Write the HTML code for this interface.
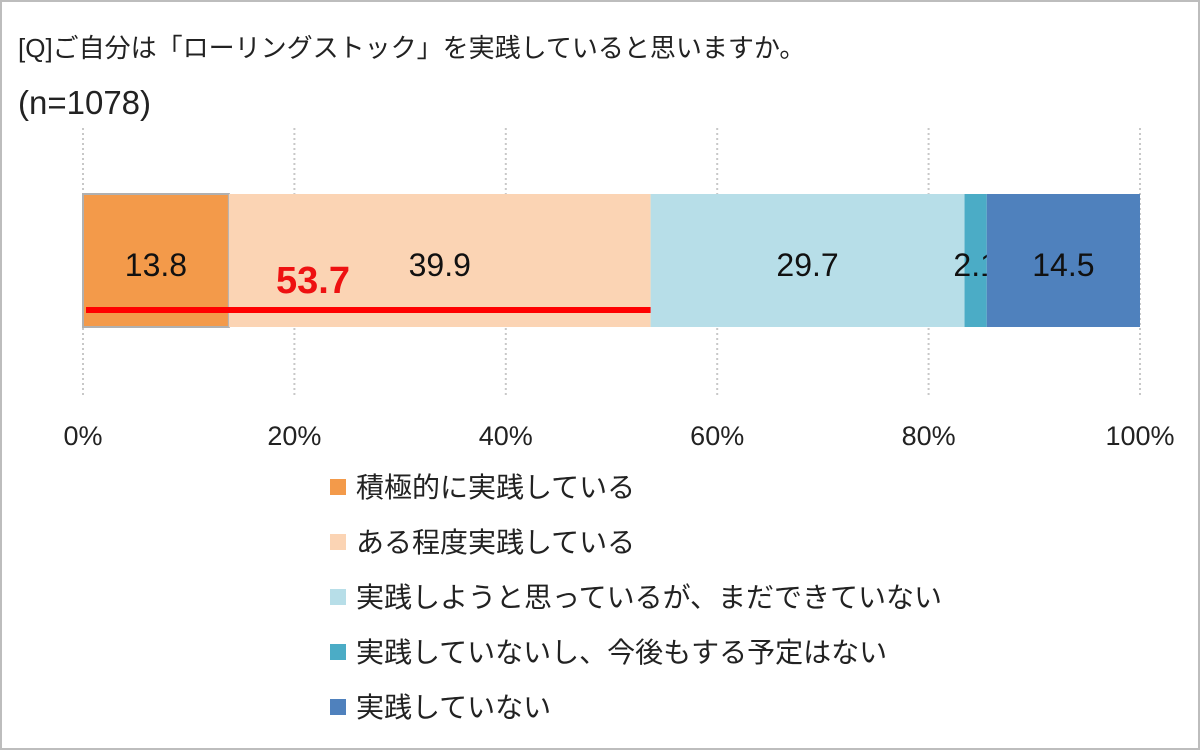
<!DOCTYPE html>
<html><head><meta charset="utf-8"><style>
body{margin:0;background:#fff;}
svg text{font-family:"Liberation Sans","Noto Sans CJK JP",sans-serif;}
</style></head><body>
<svg width="1200" height="750" viewBox="0 0 1200 750">
<rect x="1" y="1" width="1198" height="748" fill="#fff" stroke="#bdbdbd" stroke-width="2"/>
<text x="18" y="57" font-size="26" fill="#222">[Q]ご自分は「ローリングストック」を実践していると思いますか。</text>
<text x="18" y="114" font-size="33" fill="#222">(n=1078)</text>
<g id="grid"></g><g id="bars"></g><g id="ticks"></g><g id="legend"></g>
</svg>
<script>
const categories=["積極的に実践している","ある程度実践している","実践しようと思っているが、まだできていない","実践していないし、今後もする予定はない","実践していない"];
const values=[13.8,39.9,29.7,2.1,14.5];
const tickLabels=["0%","20%","40%","60%","80%","100%"];
const tickValues=[0,20,40,60,80,100];
const highlightTotal=53.7;
const colors=["#f39a4a","#fbd4b4","#b7dee8","#4bacc6","#4f81bd"];
const NS="http://www.w3.org/2000/svg";
const x0=83,x1=1140,by=194,bh=133;
const xs=v=>x0+(x1-x0)*v/100;
function mk(t,a,p){const e=document.createElementNS(NS,t);for(const k in a)e.setAttribute(k,a[k]);p.appendChild(e);return e;}
const grid=document.getElementById('grid'),bars=document.getElementById('bars'),ticks=document.getElementById('ticks'),legend=document.getElementById('legend');
tickValues.forEach((v,i)=>{
 const l=mk('line',{x1:xs(v),x2:xs(v),y1:128,y2:395,stroke:'#c8c8c8','stroke-width':2,'stroke-dasharray':'2 3'},grid);
 
 
 const t=mk('text',{x:xs(v),y:445,'font-size':27,'text-anchor':'middle',fill:'#222'},ticks);
 t.textContent=tickLabels[i];
 
 
});
let cum=0;
values.forEach((v,i)=>{
 const r=mk('rect',{x:xs(cum),y:by,width:xs(cum+v)-xs(cum),height:bh,fill:colors[i]},bars);
 if(i==0){r.setAttribute('stroke','#b0b0b0');r.setAttribute('stroke-width','2');}
 
 
 const t=mk('text',{x:(xs(cum)+xs(cum+v))/2,y:276,'font-size':32,'text-anchor':'middle',fill:'#111'},bars);
 t.textContent=v.toFixed(1);
 
 
 cum+=v;
});
const hl=mk('line',{x1:x0+3,x2:xs(highlightTotal),y1:310,y2:310,stroke:'#ff0000','stroke-width':6},bars);


const ht=mk('text',{x:313,y:293,'font-size':38,'font-weight':'bold','text-anchor':'middle',fill:'#ee1111'},bars);
ht.textContent=highlightTotal.toFixed(1);


categories.forEach((c,i)=>{
 const y=487+i*55;
 const s=mk('rect',{x:330,y:y-8,width:16,height:16,fill:colors[i]},legend);
 
 
 const t=mk('text',{x:356,y:y+10,'font-size':28,fill:'#222'},legend);
 t.textContent=c;
 
 
});
</script>
</body></html>
